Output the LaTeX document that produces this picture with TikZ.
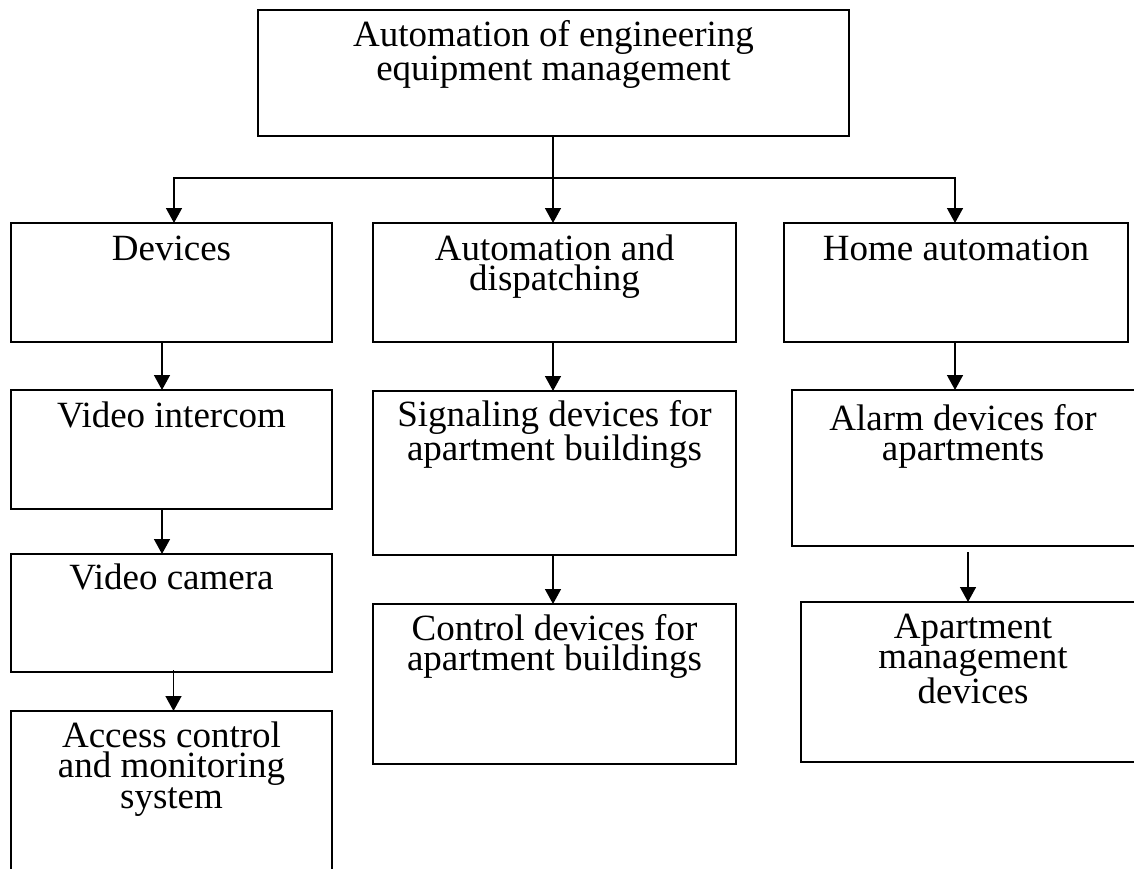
\documentclass[tikz,border=0pt]{standalone}
\usepackage{fontspec}
\setmainfont{Liberation Serif}
\usetikzlibrary{arrows.meta}
\newcommand\mylines[1]{\vtop{\halign{\hfil##\hfil\cr#1\crcr}}}
\begin{document}
\begin{tikzpicture}[x=1pt,y=1pt,
  box/.style={draw, line width=1.5pt, rectangle, inner sep=0pt, outer sep=0pt},
  txt/.style={anchor=base, inner sep=0pt, font=\fontsize{37}{30.5}\selectfont},
  link/.style={line width=1.5pt},
  arr/.style={line width=1.5pt, -{Triangle[width=16pt,length=15pt]}}]
\useasboundingbox (0,0) rectangle (1134,-869);
% boxes
\node[box, minimum width=591, minimum height=126] (top) at (553.5,-73) {};
\node[box, minimum width=321, minimum height=119] (dev) at (171.5,-282.5) {};
\node[box, minimum width=363, minimum height=119] (aut) at (554.5,-282.5) {};
\node[box, minimum width=344, minimum height=119] (home) at (956,-282.5) {};
\node[box, minimum width=321, minimum height=119] (vi) at (171.5,-449.5) {};
\node[box, minimum width=363, minimum height=164] (sig) at (554.5,-473) {};
\node[box, minimum width=344, minimum height=156] (alarm) at (964,-468) {};
\node[box, minimum width=321, minimum height=118] (vc) at (171.5,-613) {};
\node[box, minimum width=363, minimum height=160] (ctrl) at (554.5,-684) {};
\node[box, minimum width=344, minimum height=160] (apt) at (973,-682) {};
\node[box, minimum width=321, minimum height=189] (acc) at (171.5,-805.5) {};
% texts
\node[txt] (topT) at (553.5,-47) {\mylines{Automation of engineering\cr equipment management}};
\node[txt] (devT) at (171.5,-260) {Devices};
\node[txt] (autT) at (554.5,-260) {\mylines{Automation and\cr dispatching}};
\node[txt] (homeT) at (956,-260) {Home automation};
\node[txt] (viT) at (171.5,-427) {Video intercom};
\node[txt] (sigT) at (554.5,-426) {\mylines{Signaling devices for\cr apartment buildings}};
\node[txt] (alarmT) at (963,-430) {\mylines{Alarm devices for\cr apartments}};
\node[txt] (vcT) at (171.5,-589) {Video camera};
\node[txt] (ctrlT) at (554.5,-640) {\mylines{Control devices for\cr apartment buildings}};
\node[txt] (aptT) at (973,-638) {\mylines{Apartment\cr management\cr devices}};
\node[txt] (accT) at (171.5,-747) {\mylines{Access control\cr and monitoring\cr system}};
% connectors
\coordinate (hub) at (553,-178);
\draw[link] ([xshift=-0.5pt]top.south) -- (hub);
\draw[arr] (hub) -| ([xshift=2.5pt]dev.north);
\draw[arr] (hub) -- ([xshift=-1.5pt]aut.north);
\draw[arr] (hub) -| ([xshift=-1pt]home.north);
\draw[arr] ([xshift=-9.5pt]dev.south) -- ([xshift=-9.5pt]vi.north);
\draw[arr] ([xshift=-9.5pt]vi.south) -- ([xshift=-9.5pt]vc.north);
\draw[arr] ([xshift=2pt,yshift=2pt]vc.south) -- ([xshift=2pt]acc.north);
\draw[arr] ([xshift=-1.5pt]aut.south) -- ([xshift=-1.5pt]sig.north);
\draw[arr] ([xshift=-1.5pt]sig.south) -- ([xshift=-1.5pt]ctrl.north);
\draw[arr] ([xshift=-1pt]home.south) -- ([xshift=-9pt]alarm.north);
\draw[arr] ([xshift=4pt,yshift=-6pt]alarm.south) -- ([xshift=-5pt]apt.north);
\end{tikzpicture}
\end{document}
